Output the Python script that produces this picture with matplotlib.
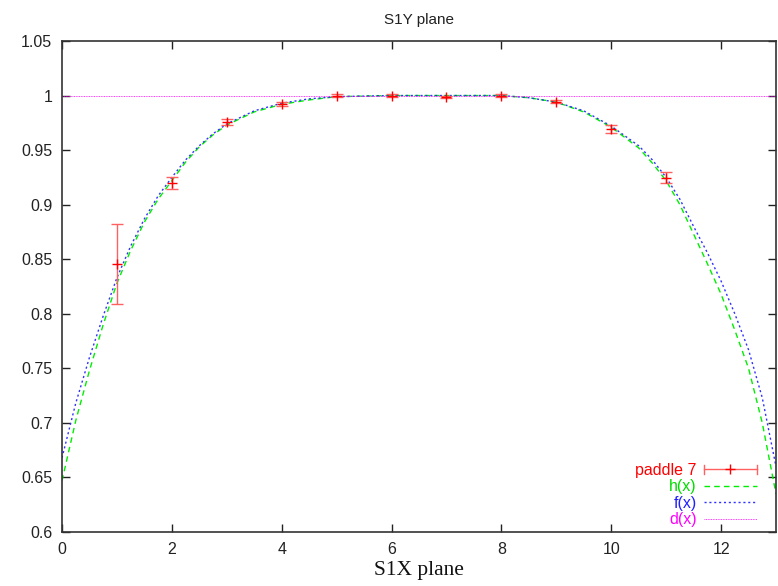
import matplotlib
matplotlib.use("Agg")
import matplotlib.pyplot as plt
from matplotlib.lines import Line2D
from matplotlib.legend_handler import HandlerBase

# measured points (paddle 7)
px = [1, 2, 3, 4, 5, 6, 7, 8, 9, 10, 11]
py = [0.8455, 0.920, 0.9757, 0.9925, 1.000, 1.000, 0.9990, 1.000, 0.9945, 0.9695, 0.9245]
perr = [0.0365, 0.0055, 0.003, 0.002, 0.001, 0.001, 0.001, 0.001, 0.0015, 0.0035, 0.005]

# fitted curves
cx = [0, 0.25, 0.5, 0.75, 1.0, 1.25, 1.5, 1.75, 2.0, 2.25, 2.5, 2.75, 3.0, 3.5, 4.0, 4.5, 5.0,
      6.0, 7.0, 8.0, 8.5, 9.0, 9.5, 10.0, 10.5, 10.75, 11.0, 11.25, 11.5, 11.75, 12.0, 12.25,
      12.5, 12.75, 13.0]
h_y = [0.647, 0.702, 0.748, 0.790, 0.828, 0.858, 0.884, 0.905, 0.922, 0.939, 0.953, 0.964,
       0.973, 0.985, 0.992, 0.996, 0.999, 1.000, 1.000, 1.000, 0.998, 0.994, 0.985, 0.971,
       0.952, 0.938, 0.922, 0.900, 0.873, 0.846, 0.818, 0.785, 0.750, 0.700, 0.635]
f_y = [0.668, 0.718, 0.760, 0.798, 0.833, 0.862, 0.887, 0.908, 0.925, 0.941, 0.954, 0.965,
       0.974, 0.986, 0.993, 0.997, 0.999, 1.000, 1.000, 1.000, 0.998, 0.994, 0.986, 0.972,
       0.954, 0.941, 0.925, 0.905, 0.880, 0.856, 0.830, 0.800, 0.767, 0.723, 0.660]
d_x = [0, 13]
d_y = [1.0, 1.0]

xticks = [0, 2, 4, 6, 8, 10, 12]
yticks = [0.6, 0.65, 0.7, 0.75, 0.8, 0.85, 0.9, 0.95, 1.0, 1.05]
ytick_labels = ["0.6", "0.65", "0.7", "0.75", "0.8", "0.85", "0.9", "0.95", "1", "1.05"]

W, H = 778, 586
fig = plt.figure(figsize=(W / 100, H / 100), dpi=100)
ax = fig.add_axes([62 / W, 1 - 532 / H, (776 - 62) / W, (532 - 41) / H])

sans = ["Liberation Sans", "DejaVu Sans"]
serif = ["Liberation Serif", "DejaVu Serif"]

red = "#ff0000"
ax.errorbar(px, py, yerr=perr, fmt="+", color=red, ecolor="#ff6060", elinewidth=1,
            capsize=4, capthick=1, markersize=7, markeredgewidth=1, zorder=5)
lh, = ax.plot(cx, h_y, color="#00ee00", linestyle=(0, (4, 3)), linewidth=1)
lf, = ax.plot(cx, f_y, color="#3030ff", linestyle=(0, (1.5, 2)), linewidth=1)
ld, = ax.plot(d_x, d_y, color="#ff00ff", linestyle=(0, (1, 1)), linewidth=0.6)


class ErrHandler(HandlerBase):
    def create_artists(self, legend, orig_handle, xdescent, ydescent, width, height,
                       fontsize, trans):
        y = height / 2 - ydescent
        x0, x1 = -xdescent, -xdescent + width
        cap = height * 0.4
        arts = [
            Line2D([x0, x1], [y, y], color="#ff6060", lw=1),
            Line2D([x0, x0], [y - cap, y + cap], color="#ff6060", lw=1),
            Line2D([x1, x1], [y - cap, y + cap], color="#ff6060", lw=1),
            Line2D([(x0 + x1) / 2], [y], marker="+", color=red, markersize=7, lw=0),
        ]
        for a in arts:
            a.set_transform(trans)
        return arts


proxy = Line2D([], [], color=red)
leg = ax.legend([proxy, lh, lf, ld], ["paddle 7", "h(x)", "f(x)", "d(x)"],
                handler_map={proxy: ErrHandler()},
                loc="lower right", bbox_to_anchor=(0.993, -0.02), markerfirst=False,
                frameon=False, handlelength=3.3, handletextpad=0.45, labelspacing=0.1,
                prop={"family": sans, "size": 11.5})
for t, c in zip(leg.get_texts(), [red, "#00dd00", "#2020ff", "#ff00ff"]):
    t.set_color(c)

ax.set_xlim(0, 13)
ax.set_ylim(0.6, 1.05)
ax.set_xticks(xticks)
ax.set_yticks(yticks)
ax.set_yticklabels(ytick_labels)
ax.tick_params(direction="in", length=6, width=1, top=True, right=True, labelsize=11.5,
               colors="#222222", pad=7)
for lab in ax.get_xticklabels() + ax.get_yticklabels():
    lab.set_family(sans)
for s in ax.spines.values():
    s.set_linewidth(1.2)
    s.set_color("#333333")

ax.set_title("S1Y plane", fontsize=11, family=sans, pad=12, color="#222222")
ax.set_xlabel("S1X plane", fontsize=15.5, family=serif, labelpad=3, color="#111111")

fig.savefig("out.png", dpi=100)
